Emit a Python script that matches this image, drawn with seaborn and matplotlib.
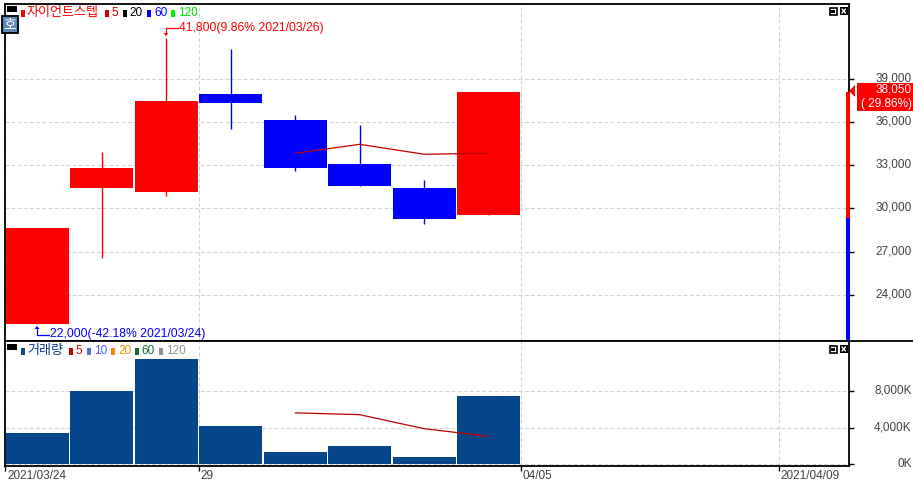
import matplotlib
matplotlib.use('Agg')
import matplotlib.pyplot as plt
from matplotlib.patches import Polygon, Rectangle
from matplotlib.transforms import ScaledTranslation
import numpy as np
import pandas as pd
import seaborn as sns

# daily candles
idx = [0, 1, 2, 3, 4, 5, 6, 7]
opens = [22000, 31400, 31150, 37950, 36120, 33080, 31420, 29550]
closes = [28650, 32800, 37450, 37300, 32800, 31550, 29260, 38050]
highs = [28650, 33900, 41800, 41050, 36470, 35780, 31970, 38050]
lows = [22000, 26550, 30850, 35500, 32590, 31550, 28920, 29550]
volumes = [3440, 7960, 11420, 4200, 1370, 2020, 820, 7380]

ma_idx = [4, 5, 6, 7]
price_ma5 = [33820, 34440, 33750, 33820]
vol_ma5 = [5600, 5400, 3880, 3060]

price_ticks = [24000, 27000, 30000, 33000, 36000, 39000]
price_labels = ['24,000', '27,000', '30,000', '33,000', '36,000', '39,000']
vol_ticks = [0, 4000, 8000]
vol_labels = ['0K', '4,000K', '8,000K']
date_ticks = [-0.5, 2.5, 7.5, 11.5]
date_labels = ['2021/03/24', '29', '04/05', '2021/04/09']

RED = '#ff0000'
BLUE = '#0000ff'
NAVY = '#05478a'
GRID = '#d2d4d2'
LABEL = '#404444'
MA_RED = '#c00000'
W, H = 913, 482

sns.set_theme(style='white')
plt.rcParams['font.family'] = ['Liberation Sans', 'Noto Sans CJK KR', 'DejaVu Sans']
plt.rcParams['font.size'] = 8.5

df = pd.DataFrame({'idx': idx, 'open': opens, 'close': closes, 'high': highs,
                   'low': lows, 'volume': volumes})
df['body_low'] = df[['open', 'close']].min(axis=1)
df['body'] = (df['close'] - df['open']).abs()
df['color'] = [RED, RED, RED, BLUE, BLUE, BLUE, BLUE, RED]

fig = plt.figure(figsize=(W / 100, H / 100), dpi=100, facecolor='white')


def panel(top, bottom):
    return fig.add_axes([5 / W, 1 - bottom / H, 844 / W, (bottom - top) / H])


def shift_px(dx, dy):
    return ScaledTranslation(dx / 100, dy / 100, fig.dpi_scale_trans)


ax = panel(4, 341)
ax_vol = panel(341, 466)

# candles
for color, sub in df.groupby('color'):
    sns.barplot(data=sub, x='idx', y='body', bottom=sub['body_low'].values, color=color,
                native_scale=True, width=0.98, saturation=1, errorbar=None,
                linewidth=0, ax=ax, zorder=3)
    ax.vlines(sub['idx'], sub['low'], sub['high'], color=color, linewidth=1, zorder=2)

ma_df = pd.DataFrame({'idx': ma_idx, 'price': price_ma5, 'vol': vol_ma5})
sns.lineplot(data=ma_df, x='idx', y='price', color=MA_RED, linewidth=0.9, ax=ax, zorder=4)

# volume
sns.barplot(data=df, x='idx', y='volume', color=NAVY, native_scale=True, width=0.98,
            saturation=1, errorbar=None, linewidth=0, ax=ax_vol, zorder=3)
sns.lineplot(data=ma_df, x='idx', y='vol', color=MA_RED, linewidth=0.9, ax=ax_vol, zorder=4)

ax.set_ylim(20809, 44163)
ax_vol.set_ylim(-164, 13388)

for a, ticks, labels in [(ax, price_ticks, price_labels), (ax_vol, vol_ticks, vol_labels)]:
    a.set_xlim(-0.504, 12.594)
    a.set_xlabel('')
    a.set_ylabel('')
    a.yaxis.tick_right()
    a.set_yticks(ticks)
    a.set_yticklabels(labels, ha='right', color=LABEL, fontsize=8.5)
    a.tick_params(axis='y', length=3.6, width=1, color='black', pad=41.6, right=True, left=False)
    a.set_xticks(date_ticks)
    a.grid(True, color=GRID, linestyle=(0, (3.5, 2)), linewidth=0.8)
    a.set_axisbelow(True)
    for s in a.spines.values():
        s.set_color('black')
        s.set_linewidth(1.3)
        s.set_zorder(6)
    for lab in a.get_yticklabels():
        lab.set_transform(lab.get_transform() + shift_px(0, 2))

ax.set_xticklabels([])
ax.tick_params(axis='x', length=0)
ax_vol.set_xticklabels(date_labels, ha='left', color=LABEL, fontsize=8.5)
ax_vol.tick_params(axis='x', length=3.6, width=1, color='black', pad=-0.5, bottom=True)
for lab in ax_vol.get_xticklabels():
    lab.set_transform(lab.get_transform() + shift_px(2, 0))

# price range bar on the right edge, above the spine
trans = ax.get_yaxis_transform()
ax.plot([0.9985, 0.9985], [29350, closes[-1]], transform=trans, color=RED, linewidth=2.9,
        solid_capstyle='butt', zorder=7, clip_on=False)
ax.plot([0.9985, 0.9985], [20809, 29350], transform=trans, color=BLUE, linewidth=2.9,
        solid_capstyle='butt', zorder=7, clip_on=False)

# overlay in pixel coordinates for the HTS chrome
ov = fig.add_axes([0, 0, 1, 1], facecolor='none')
ov.set_xlim(0, W)
ov.set_ylim(H, 0)
ov.axis('off')
ov.set_zorder(10)


def rect(x0, y0, x1, y1, fc, ec='none', lw=0):
    ov.add_patch(Rectangle((x0, y0), x1 - x0, y1 - y0, facecolor=fc, edgecolor=ec, linewidth=lw))


def label(x, y, s, color, **kw):
    ov.text(x, y, s, color=color, va='center', ha=kw.pop('ha', 'left'), fontsize=kw.pop('fontsize', 8.5), **kw)


# title legends
rect(7, 6, 17, 12, 'black')
rect(21, 10, 24.5, 17, RED)
label(27, 13, '자이언트스텝', RED, fontsize=9.4)
for mx, tx, s, mc, tc in [(105, 111, '5', '#cc0000', '#cc0000'), (123, 129, '20', 'black', 'black'),
                          (147, 154, '60', BLUE, BLUE), (171, 178, '120', '#00ee00', '#00dd00')]:
    rect(mx, 10, mx + 3.5, 17, mc)
    label(tx, 13, s, tc)

rect(7, 344, 17, 350, 'black')
rect(21, 348, 24.5, 355, NAVY)
label(27, 351, '거래량', '#0a3f8f', fontsize=9.4)
for mx, tx, s, mc, tc in [(69, 75, '5', '#cc0000', '#dd0000'), (87, 94, '10', '#5070f0', '#4060f0'),
                          (111, 118, '20', '#f09000', '#f09000'), (135, 141, '60', '#107030', '#107030'),
                          (159, 166, '120', '#909090', '#909090')]:
    rect(mx, 348, mx + 3.5, 355, mc)
    label(tx, 351, s, tc)

# blue button
rect(1.5, 15.5, 17.5, 32.5, '#5f86b8', 'black', 1.3)
label(9.5, 24, '호', 'white', ha='center', fontsize=10)

# window buttons
for by in (7, 345):
    rect(829.5, by + 0.5, 836.5, by + 7.5, 'white', 'black', 1.2)
    rect(831, by + 2.5, 835, by + 5.5, 'black')
    rect(840, by, 847.5, by + 8, 'black')
    ov.plot([842, 845.5], [by + 2, by + 6], color='white', linewidth=1)
    ov.plot([842, 845.5], [by + 6, by + 2], color='white', linewidth=1)

# high / low notes
ov.plot([178, 166, 166], [28, 28, 34], color=RED, linewidth=0.9)
ov.add_patch(Polygon([[163.5, 33], [168.5, 33], [166, 36]], facecolor=RED, edgecolor='none'))
label(179, 28, '41,800(9.86% 2021/03/26)', RED, fontsize=8.8)
ov.plot([49, 37, 37], [334.5, 334.5, 328], color=BLUE, linewidth=0.9)
ov.add_patch(Polygon([[34.5, 329], [39.5, 329], [37, 326]], facecolor=BLUE, edgecolor='none'))
label(50, 334, '22,000(-42.18% 2021/03/24)', BLUE, fontsize=8.8)

# current price tag
rect(857, 83, 913, 111, RED)
ov.add_patch(Polygon([[849, 91], [855, 85], [855, 97]], facecolor=RED, edgecolor='none'))
label(912, 90, '38,050', 'white', ha='right')
label(912, 104, '( 29.86%)', 'white', ha='right')

# line along the panel split to the right edge
ov.plot([849, W], [341, 341], color='black', linewidth=1.3)

fig.savefig('out.png', dpi=100)
